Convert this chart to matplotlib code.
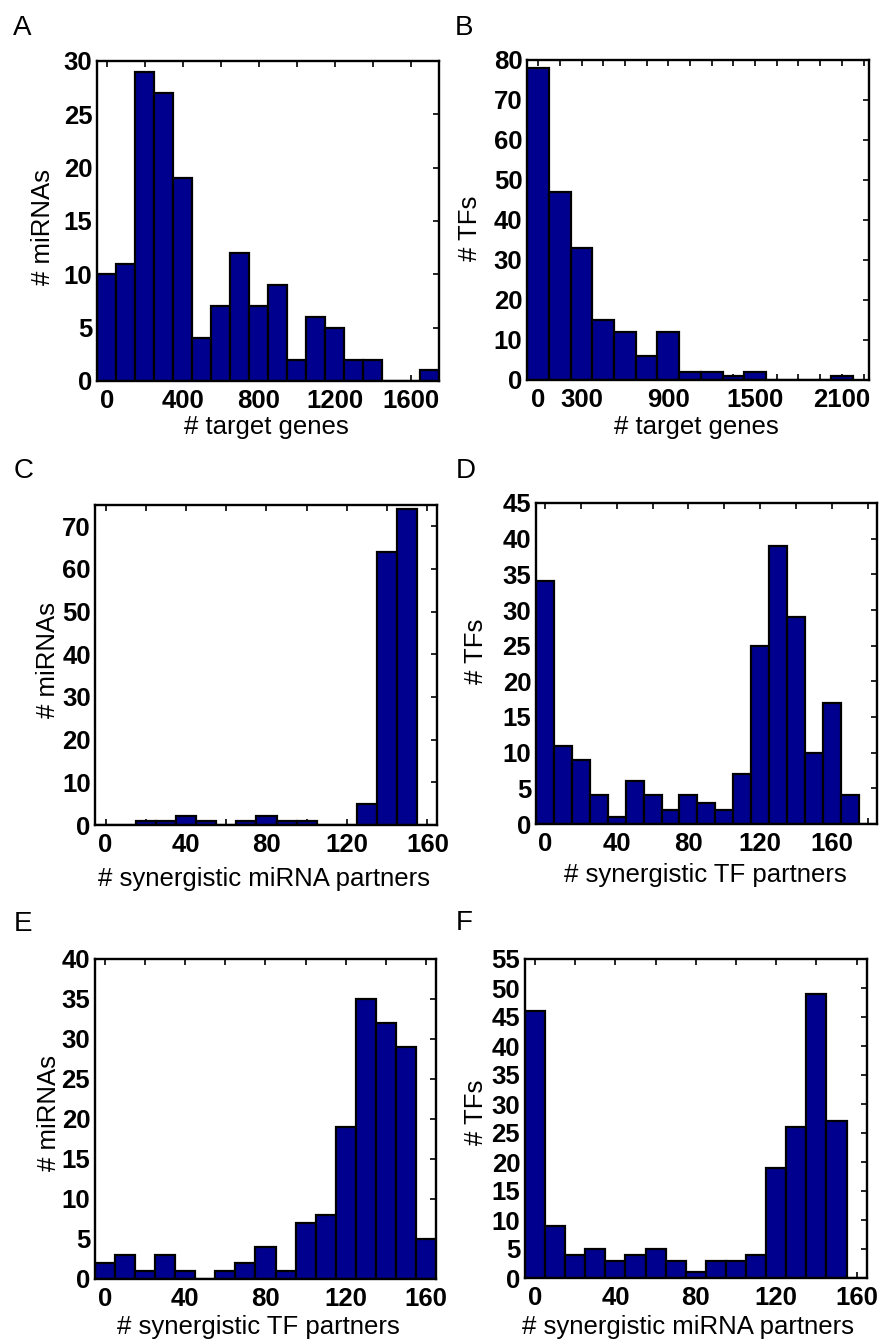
import numpy as np
import matplotlib
matplotlib.use("Agg")
import matplotlib.pyplot as plt

plt.rcParams['font.family'] = ['Liberation Sans', 'DejaVu Sans']

# histogram counts
A_counts = [10, 11, 29, 27, 19, 4, 7, 12, 7, 9, 2, 6, 5, 2, 2, 0, 0, 1]
B_counts = [78, 47, 33, 15, 12, 6, 12, 2, 2, 1, 2, 0, 0, 0, 1]
C_counts = [0, 0, 1, 1, 2, 1, 0, 1, 2, 1, 1, 0, 0, 5, 64, 74, 0]
D_counts = [34, 11, 9, 4, 1, 6, 4, 2, 4, 3, 2, 7, 25, 39, 29, 10, 17, 4, 0]
E_counts = [2, 3, 1, 3, 1, 0, 1, 2, 4, 1, 7, 8, 19, 35, 32, 29, 5]
F_counts = [46, 9, 4, 5, 3, 4, 5, 3, 1, 3, 3, 4, 19, 26, 49, 27, 0]

# bin widths
A_w, B_w, C_w, D_w, E_w, F_w = 100, 150, 10, 10, 10, 10

xlabels = ["# target genes", "# target genes",
           "# synergistic miRNA partners", "# synergistic TF partners",
           "# synergistic TF partners", "# synergistic miRNA partners"]
ylabels = ["# miRNAs", "# TFs", "# miRNAs", "# TFs", "# miRNAs", "# TFs"]
letters = ["A", "B", "C", "D", "E", "F"]

A_labeled = [0, 400, 800, 1200, 1600]
B_labeled = [0, 300, 900, 1500, 2100]
syn_labeled = [0, 40, 80, 120, 160]

W, H = 887, 1339
fig = plt.figure(figsize=(W / 100, H / 100), dpi=100)

# axes boxes in pixels: left, right, top, bottom
boxes = [(97.3, 439.3, 61, 381), (527.3, 869.3, 60, 380),
         (95.5, 437.5, 505, 825), (536, 876.7, 503, 824),
         (95, 436, 959, 1279), (525, 866.7, 959, 1278)]
letter_pos = [(13, 35), (455, 35), (14, 478), (456, 478), (14, 931), (456, 930)]
ylab_xy = [(-0.124, 0.48), (-0.132, 0.475), (-0.103, 0.516),
           (-0.141, 0.537), (-0.10, 0.519), (-0.108, 0.52)]
xlab_xy = [(0.495, -0.106), (0.495, -0.109), (0.494, -0.13),
           (0.498, -0.121), (0.479, -0.1125), (0.477, -0.116)]

counts = [A_counts, B_counts, C_counts, D_counts, E_counts, F_counts]
widths = [A_w, B_w, C_w, D_w, E_w, F_w]
xlims = [(-50, 1750), (-75, 2290), (-5, 165), (-5, 185), (-5, 165), (-5, 165)]
ylims = [30, 80, 75, 45, 40, 55]
ysteps = [5, 10, 10, 5, 5, 5]
xticks = [np.arange(0, 1700, 200), np.arange(0, 2400, 150),
          np.arange(0, 170, 20), np.arange(0, 190, 20),
          np.arange(0, 170, 20), np.arange(0, 170, 20)]
xlab_sets = [A_labeled, B_labeled, syn_labeled, syn_labeled, syn_labeled, syn_labeled]

for i in range(6):
    l, r, t, b = boxes[i]
    ax = fig.add_axes([l / W, 1 - b / H, (r - l) / W, (b - t) / H])
    c = counts[i]
    w = widths[i]
    centers = np.arange(len(c)) * w
    ax.bar(centers, c, width=w, color='#00008F', edgecolor='black', linewidth=1.6)
    ax.set_xlim(*xlims[i])
    ax.set_ylim(0, ylims[i])
    ax.set_yticks(np.arange(0, ylims[i] + 1, ysteps[i]))
    tk = xticks[i]
    ax.set_xticks(tk, labels=[str(v) if v in xlab_sets[i] else "" for v in tk])
    ax.set_axisbelow(True)
    ax.tick_params(direction='in', top=True, right=True, left=False, bottom=True,
                   length=4, width=1.2, labelsize=18.5)
    ax.tick_params(axis='x', pad=6)
    ax.tick_params(axis='y', pad=3.5)
    for lab in ax.get_xticklabels() + ax.get_yticklabels():
        lab.set_fontweight('bold')
    for s in ax.spines.values():
        s.set_linewidth(1.7)
    ax.set_ylabel(ylabels[i], fontsize=18.5)
    ax.yaxis.set_label_coords(*ylab_xy[i])
    ax.set_xlabel(xlabels[i], fontsize=18.5)
    ax.xaxis.set_label_coords(*xlab_xy[i])
    lx, ly = letter_pos[i]
    fig.text(lx / W, 1 - ly / H, letters[i], fontsize=20, ha='left', va='baseline')

fig.savefig("out.png", dpi=100)
